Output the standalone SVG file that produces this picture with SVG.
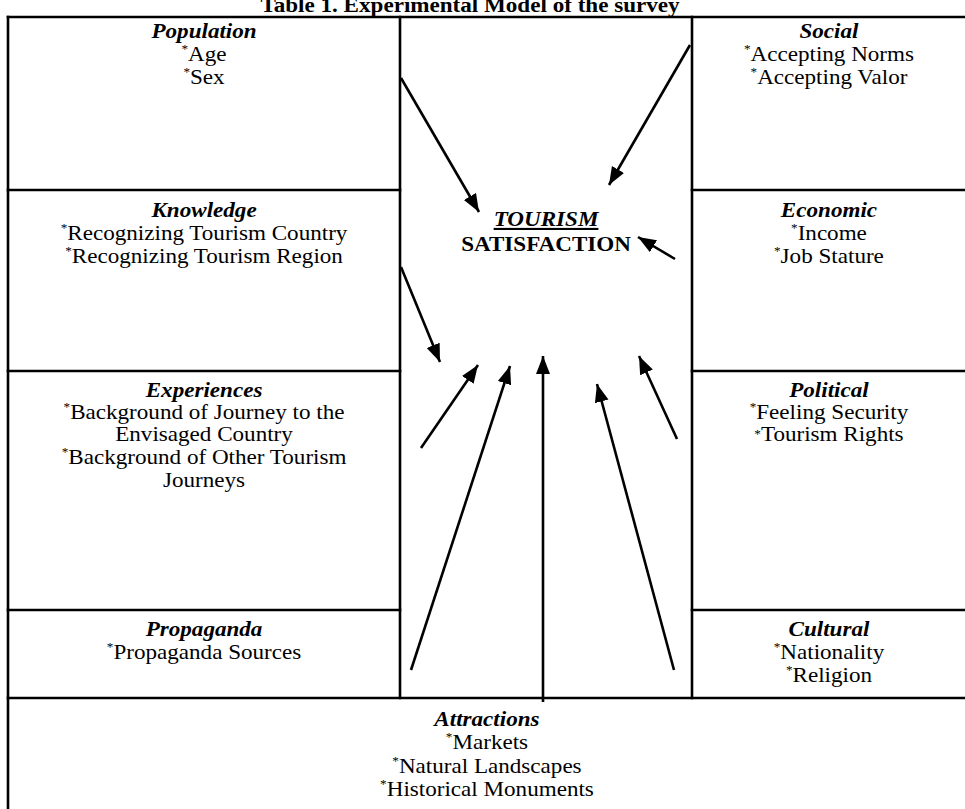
<svg xmlns="http://www.w3.org/2000/svg" width="965" height="809" viewBox="0 0 965 809">
<style>
.grid line{stroke:#000;stroke-width:2.6;stroke-linecap:square}
text{font-family:"Liberation Serif","Times New Roman",serif;font-size:21px;fill:#000;text-anchor:middle}
.h{font-weight:bold;font-style:italic}
.b{font-weight:bold}
.ast{font-size:12px}
.conn line{stroke:#000;stroke-width:2.6;marker-end:url(#ah)}
</style>
<defs>
<marker id="ah" markerUnits="userSpaceOnUse" markerWidth="20" markerHeight="16" refX="18" refY="7" orient="auto">
<path d="M0,0 L18,7 L0,14 z" fill="#000"/>
</marker>
</defs>
<rect width="965" height="809" fill="#fff"/>
<g transform="scale(1.1 1)">
<text class="b" x="427.3" y="12">Table 1. Experimental Model of the survey</text>
</g>
<g class="grid" id="table">
<line x1="8" y1="17" x2="970" y2="17"/>
<line x1="8" y1="17" x2="8" y2="815"/>
<line x1="400" y1="17" x2="400" y2="698"/>
<line x1="692" y1="17" x2="692" y2="698"/>
<line x1="8" y1="190" x2="400" y2="190"/>
<line x1="692" y1="190" x2="970" y2="190"/>
<line x1="8" y1="371" x2="400" y2="371"/>
<line x1="692" y1="371" x2="970" y2="371"/>
<line x1="8" y1="610" x2="400" y2="610"/>
<line x1="692" y1="610" x2="970" y2="610"/>
<line x1="8" y1="698" x2="970" y2="698"/>
</g>
<g id="population" transform="scale(1.1 1)">
<text class="h" x="185.5" y="38">Population</text>
<text x="185.5" y="61"><tspan class="ast" dy="-8">*</tspan><tspan dy="8">Age</tspan></text>
<text x="185.5" y="84"><tspan class="ast" dy="-8">*</tspan><tspan dy="8">Sex</tspan></text>
</g>
<g id="social" transform="scale(1.1 1)">
<text class="h" x="753.6" y="38">Social</text>
<text x="753.6" y="61"><tspan class="ast" dy="-8">*</tspan><tspan dy="8">Accepting Norms</tspan></text>
<text x="753.6" y="84"><tspan class="ast" dy="-8">*</tspan><tspan dy="8">Accepting Valor</tspan></text>
</g>
<g id="knowledge" transform="scale(1.1 1)">
<text class="h" x="185.5" y="217">Knowledge</text>
<text x="185.5" y="240"><tspan class="ast" dy="-8">*</tspan><tspan dy="8">Recognizing Tourism Country</tspan></text>
<text x="185.5" y="263"><tspan class="ast" dy="-8">*</tspan><tspan dy="8">Recognizing Tourism Region</tspan></text>
</g>
<g id="economic" transform="scale(1.1 1)">
<text class="h" x="753.6" y="217">Economic</text>
<text x="753.6" y="240"><tspan class="ast" dy="-8">*</tspan><tspan dy="8">Income</tspan></text>
<text x="753.6" y="263"><tspan class="ast" dy="-8">*</tspan><tspan dy="8">Job Stature</tspan></text>
</g>
<g id="tourism-satisfaction" transform="scale(1.1 1)">
<text class="h" x="496.4" y="226" text-decoration="underline">TOURISM</text>
<text class="b" x="496.4" y="251">SATISFACTION</text>
</g>
<g id="experiences" transform="scale(1.1 1)">
<text class="h" x="185.5" y="397">Experiences</text>
<text x="185.5" y="419"><tspan class="ast" dy="-8">*</tspan><tspan dy="8">Background of Journey to the</tspan></text>
<text x="185.5" y="441">Envisaged Country</text>
<text x="185.5" y="464"><tspan class="ast" dy="-8">*</tspan><tspan dy="8">Background of Other Tourism</tspan></text>
<text x="185.5" y="487">Journeys</text>
</g>
<g id="political" transform="scale(1.1 1)">
<text class="h" x="753.6" y="397">Political</text>
<text x="753.6" y="419"><tspan class="ast" dy="-8">*</tspan><tspan dy="8">Feeling Security</tspan></text>
<text x="753.6" y="441"><tspan class="ast" dy="-3">*</tspan><tspan dy="3">Tourism Rights</tspan></text>
</g>
<g id="propaganda" transform="scale(1.1 1)">
<text class="h" x="185.5" y="636">Propaganda</text>
<text x="185.5" y="659"><tspan class="ast" dy="-8">*</tspan><tspan dy="8">Propaganda Sources</tspan></text>
</g>
<g id="cultural" transform="scale(1.1 1)">
<text class="h" x="753.6" y="636">Cultural</text>
<text x="753.6" y="659"><tspan class="ast" dy="-8">*</tspan><tspan dy="8">Nationality</tspan></text>
<text x="753.6" y="682"><tspan class="ast" dy="-8">*</tspan><tspan dy="8">Religion</tspan></text>
</g>
<g id="attractions" transform="scale(1.1 1)">
<text class="h" x="442.7" y="726">Attractions</text>
<text x="442.7" y="749"><tspan class="ast" dy="-8">*</tspan><tspan dy="8">Markets</tspan></text>
<text x="442.7" y="773"><tspan class="ast" dy="-8">*</tspan><tspan dy="8">Natural Landscapes</tspan></text>
<text x="442.7" y="796"><tspan class="ast" dy="-8">*</tspan><tspan dy="8">Historical Monuments</tspan></text>
</g>
<g class="conn" id="connectors">
<line x1="401" y1="78" x2="479" y2="212"/>
<line x1="690" y1="45" x2="609" y2="185"/>
<line x1="675" y1="259" x2="638" y2="237"/>
<line x1="401" y1="267" x2="440" y2="362"/>
<line x1="421" y1="448" x2="478" y2="365"/>
<line x1="411" y1="670" x2="510" y2="366"/>
<line x1="543" y1="702" x2="543" y2="356"/>
<line x1="674" y1="670" x2="597" y2="384"/>
<line x1="677" y1="439" x2="639" y2="356"/>
</g>
</svg>
